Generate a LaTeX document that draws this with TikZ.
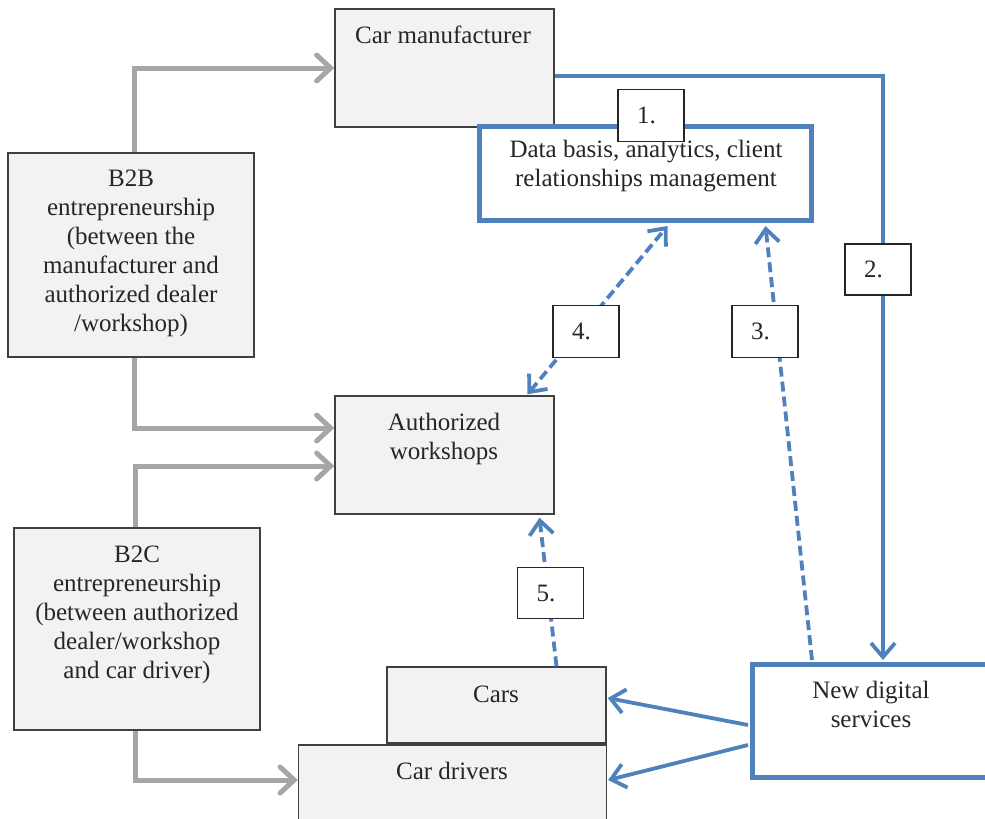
\documentclass[tikz,border=0pt]{standalone}
\usepackage{fontspec}
\setmainfont{Liberation Serif}
\usetikzlibrary{arrows.meta,calc}
\definecolor{boxfill}{HTML}{F2F2F2}
\definecolor{boxline}{HTML}{404040}
\definecolor{bluec}{HTML}{4F81BD}
\definecolor{grayc}{HTML}{A6A6A6}
\definecolor{txtc}{HTML}{262626}
\tikzset{
  graybox/.style={draw=boxline, line width=1.4pt, fill=boxfill, rectangle, inner sep=0pt},
  bluebox/.style={draw=bluec, line width=5pt, fill=white, rectangle, inner sep=0pt},
  numbox/.style={draw=txtc, line width=1.4pt, fill=white, rectangle, inner sep=0pt,
     minimum width=66pt, minimum height=52pt, font=\fontsize{25}{29}\selectfont, text=txtc},
  txt/.style={font=\fontsize{25}{29}\selectfont, text=txtc, align=center, inner sep=0pt},
  grayarrow/.style={draw=grayc, line width=5pt, -{Straight Barb[length=14pt,width=26pt,line cap=round]}},
  bluearrow/.style={draw=bluec, line width=3.8pt, -{Straight Barb[length=14pt,width=24pt]}},
  bluedash/.style={draw=bluec, line width=3.8pt, dash pattern=on 10pt off 5pt},
}
\begin{document}
\begin{tikzpicture}[x=1pt,y=-1pt]
\useasboundingbox (0,0) rectangle (985,819);
\clip (0,0) rectangle (985,819);
% boxes
\node[graybox, minimum width=219pt, minimum height=118pt] (cm) at (444.5,68) {};
\node[graybox, minimum width=246pt, minimum height=204pt] (b2b) at (131,255) {};
\node[graybox, minimum width=219pt, minimum height=118pt] (aw) at (444.5,455) {};
\node[graybox, minimum width=246pt, minimum height=202pt] (b2c) at (137,629) {};
\node[graybox, minimum width=308pt, minimum height=110pt] (cd) at (452.5,800) {};
\node[graybox, minimum width=219pt, minimum height=76pt] (cars) at (496.5,705) {};
\node[bluebox, minimum width=332pt, minimum height=94pt] (db) at (645.5,173.5) {};
\node[bluebox, minimum width=247pt, minimum height=113pt] (nds) at (876,721) {};
% texts
\node[txt, anchor=base] (cmt) at (443,43) {Car manufacturer};
\node[txt] (dbt) at (646,166.5) {Data basis, analytics, client\\relationships management};
\node[txt] (b2bt) at (131,253) {B2B\\entrepreneurship\\(between the\\manufacturer and\\authorized dealer\\/workshop)};
\node[txt] (awt) at (444,439) {Authorized\\workshops};
\node[txt] (b2ct) at (137,615) {B2C\\entrepreneurship\\(between authorized\\dealer/workshop\\and car driver)};
\node[txt, anchor=base] (carst) at (496,702) {Cars};
\node[txt, anchor=base] (cdt) at (452,779) {Car drivers};
\node[txt] (ndst) at (871,704.5) {New digital\\services};
% gray connectors
\draw[grayarrow] ($(b2b.north)+(3,0)$) |- (cm.west);
\draw[grayarrow] ($(b2b.south)+(3,0)$) |- ($(aw.west)+(0,-27)$);
\draw[grayarrow] ($(b2c.north)+(-2,0)$) |- ($(aw.west)+(0,11)$);
\draw[grayarrow] ($(b2c.south)+(-2,0)$) |- ($(cd.west)+(0,-20)$);
% blue connectors
\draw[bluearrow] ($(cm.east)+(0,8)$) -| ($(nds.north)+(7,-2)$);
\draw[bluearrow] ($(nds.west)+(-2,4)$) -- ($(cars.east)+(1,-7)$);
\draw[bluearrow] ($(nds.west)+(-2,24)$) -- ($(cd.east)+(1,-20)$);
\draw[bluedash, -{Straight Barb[length=14pt,width=24pt]}] ($(nds.north)+(-64,-2)$) -- ($(db.south)+(120,3)$);
\draw[bluedash, {Straight Barb[length=14pt,width=24pt]}-{Straight Barb[length=14pt,width=24pt]}] ($(aw.north)+(83,-1)$) -- ($(db.south)+(22,3)$);
\draw[bluedash, -{Straight Barb[length=14pt,width=24pt]}] ($(cars.north)+(60,0)$) -- ($(aw.south)+(95,3)$);
% number labels
\node[numbox] (n1) at (651,115.5) {1.\hspace*{9pt}};
\node[numbox, minimum height=51pt] (n2) at (878,269.5) {2.\hspace*{9pt}};
\node[numbox] (n3) at (765,331.5) {3.\hspace*{9pt}};
\node[numbox] (n4) at (586,331.5) {4.\hspace*{9pt}};
\node[numbox, minimum height=51pt] (n5) at (550.5,593) {5.\hspace*{9pt}};
\end{tikzpicture}
\end{document}
